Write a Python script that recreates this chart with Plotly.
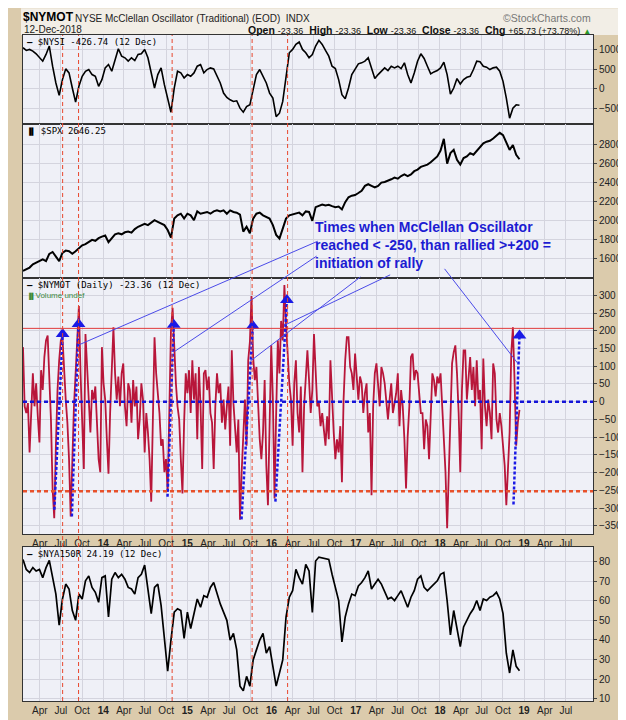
import pandas as pd
import plotly.graph_objects as go

# ---- data ----
# $NYSI (summation index), roughly every two weeks, Jan 2013 -> 12 Dec 2018
nysi = [1057, 987, 1013, 970, 900, 797, 710, 883, 1100, 580,
        147, -173, 234, 511, 407, 17, -346, 61, 320, 450,
        494, 364, 320, 61, 234, 537, 624, 450, 753, 1030,
        840, 797, 710, 797, 727, 883, 900, 1013, 797, 364,
        17, 364, 537, 104, -286, -606, 17, 450, 407, 277,
        364, 320, 407, 580, 624, 407, 494, 537, 511, 320,
        147, -113, -225, -286, -329, -312, -502, -606, -459, -416,
        -26, 364, 494, 320, 147, -113, -242, -719, -632, -329,
        320, 927, 1013, 1143, 1204, 1013, 927, 797, 883,
        1100, 1247, 1143, 987, 840, 580, 520, 234, -156, -260,
        17, 364, 494, 641, 667, 710, 797, 554, 260, 364,
        450, 537, 468, 580, 537, 580, 520, 667, 364, 147,
        407, 710, 900, 779, 580, 381, 433, 468, 537, 684,
        364, -139, 17, 260, 121, 234, 294, 320, 494, 710,
        693, 580, 554, 494, 537, 554, 450, 190, -242, -760,
        -502, -416, -427]

# $SPX, same two-week spacing
spx = [1475, 1492, 1510, 1544, 1561, 1578, 1595, 1578, 1654, 1674,
       1630, 1578, 1664, 1688, 1681, 1654, 1681, 1715, 1743, 1756,
       1777, 1801, 1791, 1818, 1835, 1846, 1777, 1818, 1859, 1870,
       1859, 1880, 1887, 1877, 1914, 1938, 1955, 1969, 1955, 1983,
       2007, 1990, 1973, 1955, 1904, 1825, 2024, 2058, 2075, 2024,
       2075, 2058, 2007, 2099, 2075, 2086, 2093, 2075, 2099, 2110,
       2099, 2110, 2075, 2110, 2093, 2086, 2065, 1887, 1938, 1870,
       2024, 2075, 2086, 2058, 2041, 2024, 1955, 1853, 1815, 1921,
       2024, 2058, 2065, 2075, 2086, 2058, 2099, 2093, 2000,
       2144, 2161, 2172, 2161, 2168, 2154, 2144, 2151, 2120, 2196,
       2247, 2264, 2271, 2292, 2316, 2367, 2384, 2367, 2350, 2367,
       2401, 2408, 2418, 2436, 2453, 2442, 2470, 2487, 2470, 2487,
       2521, 2538, 2566, 2580, 2590, 2614, 2641, 2676, 2737, 2860,
       2600, 2710, 2744, 2641, 2590, 2658, 2676, 2710, 2693, 2737,
       2779, 2813, 2830, 2840, 2864, 2899, 2923, 2899, 2813, 2744,
       2796, 2693, 2646.25]

# $NYMOT (McClellan oscillator), roughly weekly
nymot = [154, -13, -32, -4, -143, -32, 80, -13, 52, -41,
         -115, 89, 33, 126, 173, 187, 80, -50, -245, -329,
         -124, 33, 117, 173, 182, 80, 6, -59, -162, -324,
         -162, -13, 80, 173, 270, 80, -32, -190, 191, 98,
         -32, -87, 33, 6, 43, -59, -162, -199, 154, 52,
         6, -106, -203, -32, 117, 210, 80, 6, 71, -13,
         80, 108, -13, -69, 52, 33, -59, 61, -13, 43,
         -106, -50, 52, 6, -143, -32, -87, -162, -282, -59,
         182, 80, 24, -32, -124, -106, -199, -162, -254, -32,
         200, 265, 150, 52, -13, -50, -162, -259, -59, 80,
         24, 89, -32, 117, 6, 80, -106, 98, -13, -190,
         80, 89, 33, 71, -32, -59, -190, -13, 80, 24,
         52, -59, 6,
         -78, -13, 43, -124, 145, -4, -78, -143, -50, -333,
         -199, -87, 6, -124, 117, 168, 298, 126, 61, 98,
         -32, -106, -162, -87, 61, -180, -292, -32, 159, 6,
         -273, -32, 173, 80, 228, 173, 329, 219, 126, 52,
         6, -124, 52, 117, -32, -87, 43, -199, -13, 80,
         145, 61, -32, 33, 191, 89, -13, -4, -69, -32,
         -78, -124, -41, -106, 117, -13, -87, -162, -106, -143,
         -69, -227, 6, 117, 182, 182, 98, 80, 33, 136,
         80, 6, 71, 52, -32, 24, 52, -87, -32, -264,
         -13, 80, 108, 52, -13, 98, 80, 52, -4, -50,
         6, 52, -32, -4, 24, 80, -69, 33, -13, -106,
         -245, -97, -13, 126, 136, 61, 89, 80, 33, -32,
         -32, -134, -50, -69, -162, -13, 80, 61, 15, 71,
         52, 80, -13, -87, -199, -357, -199, -50, 108, 140,
         159, 80, -32, -199, 33, 145, 145, 6, 80, 126,
         33, 98, -13, 117, 6, 33, -134, 122, -13, -69,
         6, -32, -106, 108, 80, -50, -87, -32, -69, -134,
         -180, -292, -190, -87, 136, 210, 61, -124, -59, -23.36]

# $NYA150R (% of NYSE stocks above 150-day MA), two-week spacing
nya150r = [81, 76, 74.4, 76.9, 75.2, 76, 71.8, 76.9, 80.6, 71.8,
           63.4, 47.5, 60.9, 68.5, 66, 55, 50, 63.4, 60.9, 70.2,
           72.7, 66.8, 64.3, 59.2, 71.8, 72.7, 51.7, 71, 74.4, 71.8,
           73.5, 71, 66.8, 66, 63.4, 71.8, 73.5, 78.2, 66.8, 53.4,
           66.8, 68.5, 57.6, 39.9, 24, 39.9, 54.2, 55.9, 55, 40.8,
           54.2, 45.8, 54.2, 60.9, 56.7, 62.6, 61.8, 66.8, 69.3, 63.4,
           58.4, 54.2, 50, 39.9, 43.3, 34.9, 16.4, 14, 21.4, 16.4,
           29.8, 34.9, 39.9, 43.3, 33.2, 36.6, 26.5, 16.4, 23.1, 29.8,
           51.7, 61.8, 65.1, 76, 71.8, 68.5, 78.6, 75.2, 54,
           80.3, 82.3, 81.9, 81.6, 81.1, 73.5, 66.8, 60.1, 39, 51.7,
           58.4, 63.4, 62.6, 67.6, 69.3, 71.8, 75.2, 66, 68.5, 71,
           68.5, 65.1, 60.9, 61.8, 60.1, 62.6, 65.1, 60.9, 56.7, 61.8,
           65.1, 71, 72.7, 66.8, 65.1, 66.8, 68.5, 70.2, 73.5, 74.4,
           60, 42.5, 55, 46.6, 36.6, 46.6, 50, 53.4, 55.9, 60.1,
           55, 60.9, 60.1, 61.8, 62.6, 64.3, 60.9, 53.4, 33.2, 23.1,
           34.9, 26.5, 24.19]

data_start = "2013-01-18"
data_end = "2018-12-12"

# signal arrows: oscillator low (< -250) -> rally above +200
arrow_from_dates = ["2013-06-03", "2013-08-18", "2014-10-07", "2015-08-24", "2016-01-18", "2018-11-16"]
arrow_from_vals = [-305, -324, -268, -332, -282, -290]
arrow_to_dates = ["2013-07-09", "2013-09-16", "2014-11-03", "2015-10-12", "2016-03-08", "2018-12-12"]
arrow_to_vals = [191, 219, 217, 214, 287, 187]

# vertical red markers
signal_dates = ["2013-07-09", "2013-09-16", "2014-10-27", "2015-10-09", "2016-03-11"]

# pointer lines from the note to the oscillator (lower end, upper end)
pointer_low_dates = ["2013-09-16", "2014-11-07", "2015-10-02", "2016-03-01", "2018-12-05"]
pointer_low_vals = [160, 142, 115, 217, 108]
pointer_high_dates = ["2016-07-20", "2016-07-15", "2017-01-21", "2017-05-30", "2018-01-21"]
pointer_high_vals = [453, 411, 352, 358, 375]

tick_dates = ["2013-04-01", "2013-07-01", "2013-10-01", "2014-01-01", "2014-04-01", "2014-07-01",
              "2014-10-01", "2015-01-01", "2015-04-01", "2015-07-01", "2015-10-01", "2016-01-01",
              "2016-04-01", "2016-07-01", "2016-10-01", "2017-01-01", "2017-04-01", "2017-07-01",
              "2017-10-01", "2018-01-01", "2018-04-01", "2018-07-01", "2018-10-01", "2019-01-01",
              "2019-04-01", "2019-07-01"]
tick_labels = ["Apr", "Jul", "Oct", "<b>14</b>", "Apr", "Jul", "Oct", "<b>15</b>", "Apr", "Jul", "Oct",
               "<b>16</b>", "Apr", "Jul", "Oct", "<b>17</b>", "Apr", "Jul", "Oct", "<b>18</b>",
               "Apr", "Jul", "Oct", "<b>19</b>", "Apr", "Jul"]

nysi_ticks = [-500, 0, 500, 1000]
spx_ticks = [1600, 1800, 2000, 2200, 2400, 2600, 2800]
nymot_ticks = [-350, -300, -250, -200, -150, -100, -50, 0, 50, 100, 150, 200, 250, 300]
nya_ticks = [10, 20, 30, 40, 50, 60, 70, 80]

# ---- layout geometry ----
W, H = 626, 720
ML, MR, MT, MB = 15, 35, 27, 18
x_start = pd.Timestamp("2013-01-18")
x_end = pd.Timestamp("2019-10-27")

dom1 = [0.8667, 1.0]
dom2 = [0.6356, 0.8667]
dom3 = [0.2504, 0.6356]
dom4 = [0.0, 0.2311]
rng1 = [-905, 1385]
rng2 = [1404, 3018]
rng3 = [-374, 350]
rng4 = [8.8, 87.4]

FONT = "Arial, Liberation Sans, sans-serif"
MONO = "DejaVu Sans Mono, monospace"
BLUE = "#1a1ae6"
RED = "#e8472e"


def to_paper(date, val, rng, dom):
    fx = (pd.Timestamp(date) - x_start) / (x_end - x_start)
    fy = dom[0] + (val - rng[0]) / (rng[1] - rng[0]) * (dom[1] - dom[0])
    return fx, fy


def px(x, y):
    # pixel position of the page -> paper coords
    return (x - ML) / (W - ML - MR), (H - MB - y) / (H - MT - MB)


biweekly = pd.date_range(data_start, data_end, periods=len(nysi))
weekly = pd.date_range(data_start, data_end, periods=len(nymot))

fig = go.Figure()

fig.add_trace(go.Scatter(x=biweekly, y=nysi, mode="lines", line=dict(color="black", width=1.6),
                         xaxis="x", yaxis="y"))
fig.add_trace(go.Scatter(x=biweekly, y=spx, mode="lines", line=dict(color="black", width=2),
                         xaxis="x2", yaxis="y2"))
fig.add_trace(go.Scatter(x=weekly, y=nymot, mode="lines", line=dict(color="#b8163a", width=1.8),
                         xaxis="x3", yaxis="y3"))
fig.add_trace(go.Scatter(x=biweekly, y=nya150r, mode="lines", line=dict(color="black", width=1.7),
                         xaxis="x4", yaxis="y4"))

# dashed blue arrows with triangle heads
ax_x, ax_y = [], []
for d0, v0, d1, v1 in zip(arrow_from_dates, arrow_from_vals, arrow_to_dates, arrow_to_vals):
    ax_x += [d0, d1, None]
    ax_y += [v0, v1, None]
fig.add_trace(go.Scatter(x=ax_x, y=ax_y, mode="lines", line=dict(color=BLUE, width=2.5, dash="3px,2px"),
                         xaxis="x3", yaxis="y3"))
fig.add_trace(go.Scatter(x=arrow_to_dates, y=arrow_to_vals, mode="markers",
                         marker=dict(symbol="triangle-up", size=12, color=BLUE),
                         xaxis="x3", yaxis="y3"))

shapes = []
for d in signal_dates:
    shapes.append(dict(type="line", xref="x", yref="paper", x0=d, x1=d, y0=0, y1=1,
                       line=dict(color=RED, width=1, dash="4px,3px"), layer="above"))
shapes.append(dict(type="line", xref="x3 domain", yref="y3", x0=0, x1=1, y0=207, y1=207,
                   line=dict(color="#e03a3a", width=1)))
shapes.append(dict(type="line", xref="x3 domain", yref="y3", x0=0, x1=1, y0=-253, y1=-253,
                   line=dict(color="#e8502a", width=2.5, dash="4px,3px")))
shapes.append(dict(type="line", xref="x3 domain", yref="y3", x0=0, x1=1, y0=0, y1=0,
                   line=dict(color="#1414d8", width=2.5, dash="4px,3px")))
for d0, v0, d1, v1 in zip(pointer_low_dates, pointer_low_vals, pointer_high_dates, pointer_high_vals):
    x0, y0 = to_paper(d0, v0, rng3, dom3)
    x1, y1 = to_paper(d1, v1, rng3, dom3)
    shapes.append(dict(type="line", xref="paper", yref="paper", x0=x0, y0=y0, x1=x1, y1=y1,
                       line=dict(color="#4a4ae8", width=1)))
# light header strip
hx0, hy0 = px(13, 27)
hx1, hy1 = px(W, 0)
shapes.append(dict(type="rect", xref="paper", yref="paper", x0=hx0, x1=hx1, y0=hy0, y1=hy1,
                   fillcolor="#f2eee6", line=dict(width=0), layer="below"))

annotations = []


def note(text, x, y, size=10, color="black", family=FONT, xanchor="left"):
    fx, fy = px(x, y)
    annotations.append(dict(text=text, x=fx, y=fy, xref="paper", yref="paper", showarrow=False,
                            xanchor=xanchor, yanchor="middle", align="left",
                            font=dict(size=size, color=color, family=family)))


note("<b>$NYMOT</b>", 13, 9, size=12)
note("NYSE McClellan Oscillator (Traditional) (EOD)  INDX", 66, 10, size=10, color="#222")
note("12-Dec-2018", 14, 21, size=10, color="#222")
note("©StockCharts.com", 591, 10, size=10.5, color="#777", xanchor="right")
note("<b>Open</b> <span style='font-size:9px'>-23.36</span>  <b>High</b> <span style='font-size:9px'>-23.36</span>"
     "  <b>Low</b> <span style='font-size:9px'>-23.36</span>  <b>Close</b> <span style='font-size:9px'>-23.36</span>"
     "  <b>Chg</b> <span style='font-size:9px'>+65.73 (+73.78%)</span> <span style='color:#2a9a2a;font-size:8px'>▲</span>",
     591, 22, size=10.5, color="#111", xanchor="right")

note("<b>—</b> $NYSI -426.74 (12 Dec)", 17, 34, size=9, family=MONO)
note("<span style='font-size:7px'>▐▌</span> $SPX 2646.25", 17, 124, size=9, family=MONO)
note("<b>—</b> $NYMOT (Daily) -23.36 (12 Dec)", 17, 280, size=9, family=MONO)
note("<span style='font-size:6px'>▐▌</span>Volume undef", 17, 291, size=8, color="#3d8a3d")
note("<b>—</b> $NYA150R 24.19 (12 Dec)", 17, 553, size=9, family=MONO)

tx, ty = to_paper("2016-06-28", 522, rng3, dom3)
annotations.append(dict(text="<b>Times when McClellan Oscillator<br>reached < -250, than rallied >+200 =<br>initiation of rally</b>",
                        x=tx, y=ty, xref="paper", yref="paper", showarrow=False, xanchor="left", yanchor="top",
                        align="left", font=dict(size=14, color="#1c1cd2", family=FONT)))

xcommon = dict(range=[x_start, x_end], type="date", tickvals=tick_dates, ticktext=tick_labels,
               showgrid=True, gridcolor="#d4d4de", gridwidth=1, showline=True, mirror=True,
               linecolor="#333", linewidth=1, ticks="", zeroline=False,
               tickfont=dict(size=10, color="#222", family=FONT))
ycommon = dict(side="right", showgrid=True, gridcolor="#d4d4de", showline=True, mirror=True,
               linecolor="#333", linewidth=1, ticks="outside", ticklen=3, tickcolor="#444",
               zeroline=False, tickfont=dict(size=10, color="#222", family=FONT))

fig.update_layout(
    width=W, height=H, autosize=False,
    margin=dict(l=ML, r=MR, t=MT, b=MB),
    paper_bgcolor="#dbcbac", plot_bgcolor="#eff0f7",
    showlegend=False,
    xaxis=dict(xcommon, anchor="y", showticklabels=False),
    xaxis2=dict(xcommon, anchor="y2", matches="x", showticklabels=False),
    xaxis3=dict(xcommon, anchor="y3", matches="x", showticklabels=True),
    xaxis4=dict(xcommon, anchor="y4", matches="x", showticklabels=True),
    yaxis=dict(ycommon, domain=dom1, range=rng1, tickvals=nysi_ticks, anchor="x"),
    yaxis2=dict(ycommon, domain=dom2, range=rng2, tickvals=spx_ticks, anchor="x2"),
    yaxis3=dict(ycommon, domain=dom3, range=rng3, tickvals=nymot_ticks, anchor="x3"),
    yaxis4=dict(ycommon, domain=dom4, range=rng4, tickvals=nya_ticks, anchor="x4"),
    shapes=shapes,
    annotations=annotations,
)

fig.write_html("out.html")
